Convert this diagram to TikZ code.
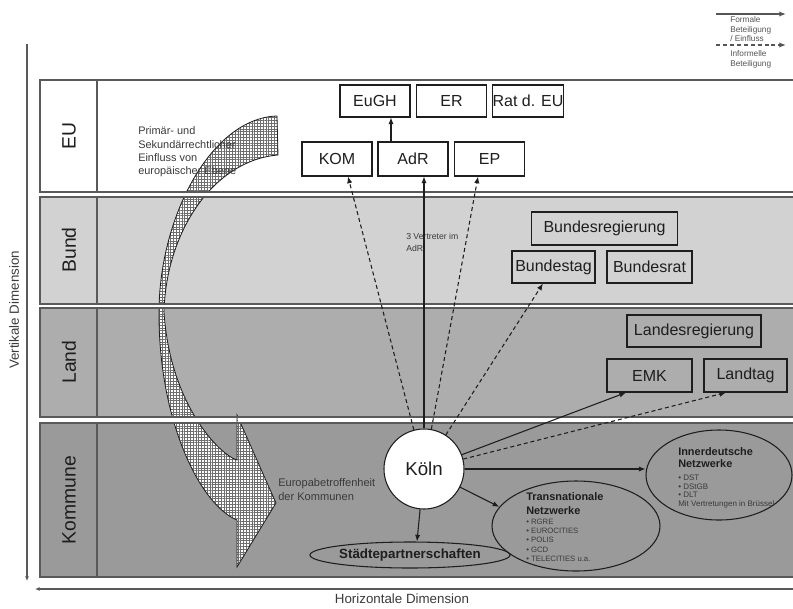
\documentclass[tikz,border=0pt]{standalone}
\usepackage{fontspec}
\setmainfont{Liberation Sans}
\usetikzlibrary{arrows.meta,shapes.geometric,patterns.meta}
\definecolor{bandbund}{HTML}{D2D2D2}
\definecolor{bandland}{HTML}{ADADAD}
\definecolor{bandkom}{HTML}{9A9A9A}
\definecolor{rule}{HTML}{5A5A5A}
\definecolor{ink}{HTML}{1E1E1E}
\definecolor{softink}{HTML}{3A3A3A}
\definecolor{legendink}{HTML}{555555}
\definecolor{hatch}{HTML}{6E6E6E}

\begin{document}
\begin{tikzpicture}[x=0.75pt,y=-0.75pt,
  inst/.style={draw=ink, line width=0.8pt, text=ink, inner sep=0pt,
    font=\fontsize{12}{14}\selectfont},
  bandlabel/.style={rotate=90, text=ink, font=\fontsize{14.5}{16}\selectfont},
  oval/.style={ellipse, draw=ink, line width=0.8pt, inner sep=0pt},
  formal/.style={draw=ink, line width=0.8pt, -{Latex[length=5pt,width=4pt]}},
  informal/.style={draw=ink, line width=0.8pt, dash pattern=on 3pt off 2.2pt,
    -{Latex[length=5pt,width=4pt]}},
  note/.style={text=softink, align=left, inner sep=0pt, anchor=north west},
  dimension/.style={draw=rule, line width=0.9pt, -{Latex[length=3.5pt,width=3pt]}}
]
\useasboundingbox (0,0) rectangle (793,608);

% level bands (fills)
\fill[white]    (40,80)  rectangle (800,192);
\fill[bandbund] (40,197) rectangle (800,304);
\fill[bandland] (40,308) rectangle (800,417);
\fill[bandkom]  (40,423) rectangle (800,577);

% curved arrow of European influence
\path[preaction={fill=white},
      preaction={pattern={Lines[angle=0,distance=2.1pt,line width=0.75pt]}, pattern color=hatch},
      preaction={pattern={Lines[angle=90,distance=2.1pt,line width=0.75pt]}, pattern color=hatch},
      draw=ink, line width=0.6pt]
  (277,116) .. controls (212,118) and (160,215) .. (159,310)
  .. controls (158,420) and (200,505) .. (237,520)
  -- (237,567) -- (276,503) -- (237,415) -- (237,460)
  .. controls (220,455) and (170,405) .. (164,312)
  .. controls (166,230) and (215,160) .. (278,155)
  -- cycle;

% gaps between the bands and their outlines
\fill[white] (40,192) rectangle (800,197);
\fill[white] (40,304) rectangle (800,308);
\fill[white] (40,417) rectangle (236,423);
\fill[white] (238,417) rectangle (800,423);
\begin{scope}[draw=rule, line width=0.8pt]
  \draw (40,80)  rectangle (800,192);
  \draw (40,197) rectangle (800,304);
  \draw (40,308) rectangle (800,417);
  \draw (40,423) rectangle (800,577);
  \draw (97,80) -- (97,192);
  \draw (97,197) -- (97,304);
  \draw (97,308) -- (97,417);
  \draw (97,423) -- (97,577);
\end{scope}

% band labels
\node[bandlabel] (lEU)   at (69,136) {EU};
\node[bandlabel] (lBund) at (69,250) {Bund};
\node[bandlabel] (lLand) at (69,362) {Land};
\node[bandlabel] (lKom)  at (69,500) {Kommune};

% dimension axes
\coordinate (vtop) at (27,44);
\coordinate (vbot) at (27,581);
\coordinate (hright) at (800,589);
\coordinate (hleft) at (35,589);
\draw[dimension] (vtop) -- (vbot);
\draw[dimension] (hright) -- (hleft);
\node[rotate=90, text=softink, font=\fontsize{10}{12}\selectfont] (vlabel) at (14,310) {Vertikale Dimension};
\node[text=softink, font=\fontsize{10}{12}\selectfont] (hlabel) at (402,599) {Horizontale Dimension};

% legend
\coordinate (lgA1) at (716,14);
\coordinate (lgA2) at (786,14);
\coordinate (lgB1) at (716,45);
\coordinate (lgB2) at (786,45);
\draw[formal, draw=legendink, line width=1.1pt] (lgA1) -- (lgA2);
\draw[informal, draw=legendink, line width=1.1pt] (lgB1) -- (lgB2);
\node[note, text=legendink, font=\fontsize{6.2}{7}\selectfont] (lgAtext) at (730,16.5) {Formale\\Beteiligung\\/ Einfluss};
\node[note, text=legendink, font=\fontsize{6.2}{7}\selectfont] (lgBtext) at (730,50.5) {Informelle\\Beteiligung};

% EU institutions
\node[inst, minimum width=52.5pt, minimum height=24pt] (eugh) at (375,101) {EuGH};
\node[inst, minimum width=52.5pt, minimum height=24pt] (er)   at (451.5,101) {ER};
\node[inst, minimum width=53pt,   minimum height=24pt] (rat)  at (528,101) {Rat d. EU};
\node[inst, minimum width=52.5pt, minimum height=25.5pt] (kom) at (337,159) {KOM};
\node[inst, minimum width=52.5pt, minimum height=25.5pt] (adr) at (413,159) {AdR};
\node[inst, minimum width=53pt,   minimum height=25.5pt] (ep)  at (489.5,159) {EP};
\coordinate (adrup) at ([xshift=-16.5pt]adr.north);
\draw[formal] (adrup) -- (adrup |- eugh.south);

% federal level
\node[inst, minimum width=110pt, minimum height=24.75pt] (breg) at (604.5,228.5) {Bundesregierung};
\node[inst, minimum width=62.25pt, minimum height=24pt] (btag) at (553.5,267) {Bundestag};
\node[inst, minimum width=63.75pt, minimum height=24pt] (brat) at (649.5,267) {Bundesrat};

% state level
\node[inst, minimum width=100.5pt, minimum height=24pt] (lreg) at (694,331) {Landesregierung};
\node[inst, minimum width=63.75pt, minimum height=24.75pt] (emk) at (649.5,375.5) {EMK};
\node[inst, minimum width=62.25pt, minimum height=24.75pt] (ltag) at (745.5,375.5) {Landtag};

% municipal level
\node[circle, draw=ink, line width=0.8pt, fill=white, minimum size=60pt, inner sep=0pt,
      text=ink, font=\fontsize{14}{16}\selectfont] (koln) at (424,469) {Köln};
\node[oval, minimum width=136.5pt, minimum height=19.5pt,
      font=\bfseries\fontsize{10}{12}\selectfont, text=ink] (staedte) at (410,555) {Städtepartnerschaften};
\node[oval, minimum width=126pt, minimum height=67.5pt] (trans) at (576,526) {};
\node[oval, minimum width=109.5pt, minimum height=67.5pt] (inner) at (719,475) {};

\node[note, text=ink, font=\bfseries\fontsize{8.2}{10.5}\selectfont] (transtitle) at (526,492.6) {Transnationale\\Netzwerke};
\node[note, font=\fontsize{5.8}{7}\selectfont] (translist) at (526,518.5)
  {• RGRE\\• EUROCITIES\\• POLIS\\• GCD\\• TELECITIES u.a.};
\node[note, text=ink, font=\bfseries\fontsize{8.2}{9}\selectfont] (innertitle) at (678,447.6) {Innerdeutsche\\Netzwerke};
\node[note, font=\fontsize{6}{6.6}\selectfont] (innerlist) at (678,474.5)
  {• DST\\• DStGB\\• DLT\\Mit Vertretungen in Brüssel};

% free texts
\node[note, font=\fontsize{8.2}{10}\selectfont] (primaer) at (138,126.6)
  {Primär- und\\Sekundärrechtlicher\\Einfluss von\\europäischer Ebene};
\node[note, font=\fontsize{8.3}{10.5}\selectfont] (betroffen) at (278,478.5)
  {Europabetroffenheit\\der Kommunen};
\node[note, font=\fontsize{6.5}{9}\selectfont] (vertreter) at (406,232.5)
  {3 Vertreter im\\AdR};

% connectors from Köln
\draw[informal] (koln) -- ([xshift=8.25pt]kom.south);
\draw[formal]   (koln.north) -- (koln.north |- adr.south);
\draw[informal] (koln) -- ([xshift=-8.6pt]ep.south);
\draw[informal] (koln) -- ([xshift=-7.9pt]btag.south);
\draw[formal]   (koln) -- ([xshift=-17.6pt]emk.south);
\draw[informal] (koln) -- ([xshift=-14.6pt]ltag.south);
\draw[formal]   (koln) -- (koln -| inner.west);
\draw[formal]   (koln) -- (trans.166);
\draw[formal]   (koln) -- ([xshift=5.25pt]staedte.north);
\end{tikzpicture}
\end{document}
